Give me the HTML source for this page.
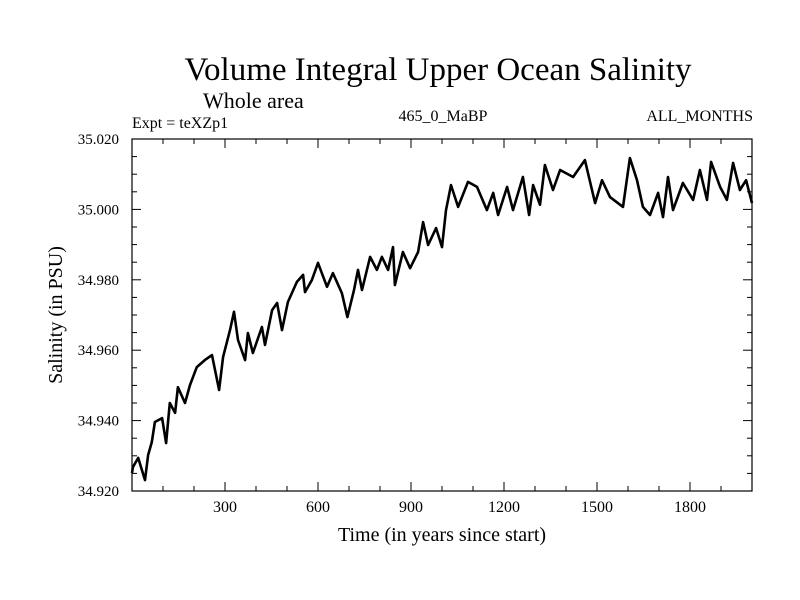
<!DOCTYPE html>
<html><head><meta charset="utf-8"><style>
body{margin:0;background:#fff;}
svg{display:block;font-family:"Liberation Serif",serif;}
</style></head><body>
<svg id="chart" width="800" height="600">
<rect width="800" height="600" fill="#fff"/>
<text x="438" y="80" font-size="33" text-anchor="middle">Volume Integral Upper Ocean Salinity</text>
<text x="203" y="108" font-size="22">Whole area</text>
<text x="132" y="128" font-size="16">Expt = teXZp1</text>
<text x="443" y="121" font-size="16" text-anchor="middle">465_0_MaBP</text>
<text x="753" y="121" font-size="16" text-anchor="end">ALL_MONTHS</text>
<text x="442" y="541" font-size="20" text-anchor="middle">Time (in years since start)</text>
<text transform="translate(62,315) rotate(-90)" font-size="20" text-anchor="middle">Salinity (in PSU)</text>
<g id="axes"></g>
<g id="plot"></g>
</svg>
<script>
const xTickValues=[300,600,900,1200,1500,1800];
const yTickValues=[34.92,34.94,34.96,34.98,35.00,35.02];
const yTickLabels=["34.920","34.940","34.960","34.980","35.000","35.020"];
const years=[0,3,20,42,52,64,74,97,110,122,139,148,171,187,209,235,258,281,294,316,329,342,365,374,390,419,429,452,468,484,503,532,552,558,580,600,629,648,677,695,716,729,742,768,790,806,826,842,848,874,897,923,939,955,981,1000,1013,1029,1052,1084,1113,1145,1165,1181,1210,1229,1261,1281,1294,1316,1332,1358,1381,1423,1461,1494,1516,1542,1584,1606,1629,1648,1671,1697,1713,1729,1745,1777,1810,1832,1855,1868,1897,1919,1939,1961,1981,2000];
const salinity=[34.9251,34.9268,34.9294,34.9231,34.9302,34.9339,34.9396,34.9407,34.9336,34.9450,34.9422,34.9495,34.9450,34.9501,34.9552,34.9572,34.9586,34.9487,34.9581,34.9657,34.9709,34.9629,34.9572,34.9649,34.9592,34.9666,34.9615,34.9714,34.9734,34.9657,34.9737,34.9794,34.9814,34.9765,34.9799,34.9848,34.9780,34.9819,34.9762,34.9694,34.9771,34.9828,34.9771,34.9865,34.9828,34.9865,34.9828,34.9893,34.9785,34.9879,34.9833,34.9879,34.9964,34.9899,34.9947,34.9893,34.9998,35.0069,35.0007,35.0078,35.0064,34.9998,35.0047,34.9984,35.0064,34.9998,35.0092,34.9984,35.0069,35.0013,35.0126,35.0055,35.0112,35.0092,35.0140,35.0018,35.0083,35.0035,35.0007,35.0146,35.0083,35.0007,34.9984,35.0047,34.9978,35.0092,34.9998,35.0075,35.0027,35.0112,35.0027,35.0135,35.0064,35.0027,35.0132,35.0055,35.0083,35.0018];
const X0=132,X1=752,Y0=491,Y1=139,XMIN=0,XMAX=2000,YMIN=34.92,YMAX=35.02;
const xs=v=>X0+(v-XMIN)/(XMAX-XMIN)*(X1-X0);
const ys=v=>Y0-(v-YMIN)/(YMAX-YMIN)*(Y0-Y1);
const NS="http://www.w3.org/2000/svg";
const axes=document.getElementById('axes'),plot=document.getElementById('plot');
function mk(t,a,p){const e=document.createElementNS(NS,t);for(const k in a)e.setAttribute(k,a[k]);p.appendChild(e);return e;}
const frame=mk('rect',{x:X0,y:Y1,width:X1-X0,height:Y0-Y1,fill:'none',stroke:'#000','stroke-width':1.2},axes);


for(let v=100;v<XMAX;v+=100){
  const major=v%300===0,L=major?9:5,x=xs(v);
  const t1=mk('line',{x1:x,x2:x,y1:Y0,y2:Y0-L,stroke:'#000'},axes);
  
  
  const t2=mk('line',{x1:x,x2:x,y1:Y1,y2:Y1+L,stroke:'#000'},axes);
  
  
}
xTickValues.forEach(v=>{
  const t=mk('text',{x:xs(v),y:Y0+21,'font-size':16,'text-anchor':'middle'},axes);
  t.textContent=v;
  
  
});
for(let i=1;i<20;i++){
  const v=YMIN+i*0.005,major=i%4===0,L=major?9:5,y=ys(v);
  const t1=mk('line',{x1:X0,x2:X0+L,y1:y,y2:y,stroke:'#000'},axes);
  
  
  const t2=mk('line',{x1:X1,x2:X1-L,y1:y,y2:y,stroke:'#000'},axes);
  
  
}
yTickValues.forEach((v,i)=>{
  const t=mk('text',{x:X0-13,y:ys(v)+5,'font-size':15,'text-anchor':'end'},axes);
  t.textContent=yTickLabels[i];
  
  
});
const d=years.map((y,i)=>(i?'L':'M')+xs(y).toFixed(1)+' '+ys(salinity[i]).toFixed(1)).join(' ');
const line=mk('path',{d:d,fill:'none',stroke:'#000','stroke-width':2.6,'stroke-linejoin':'round'},plot);


</script>
</body></html>
